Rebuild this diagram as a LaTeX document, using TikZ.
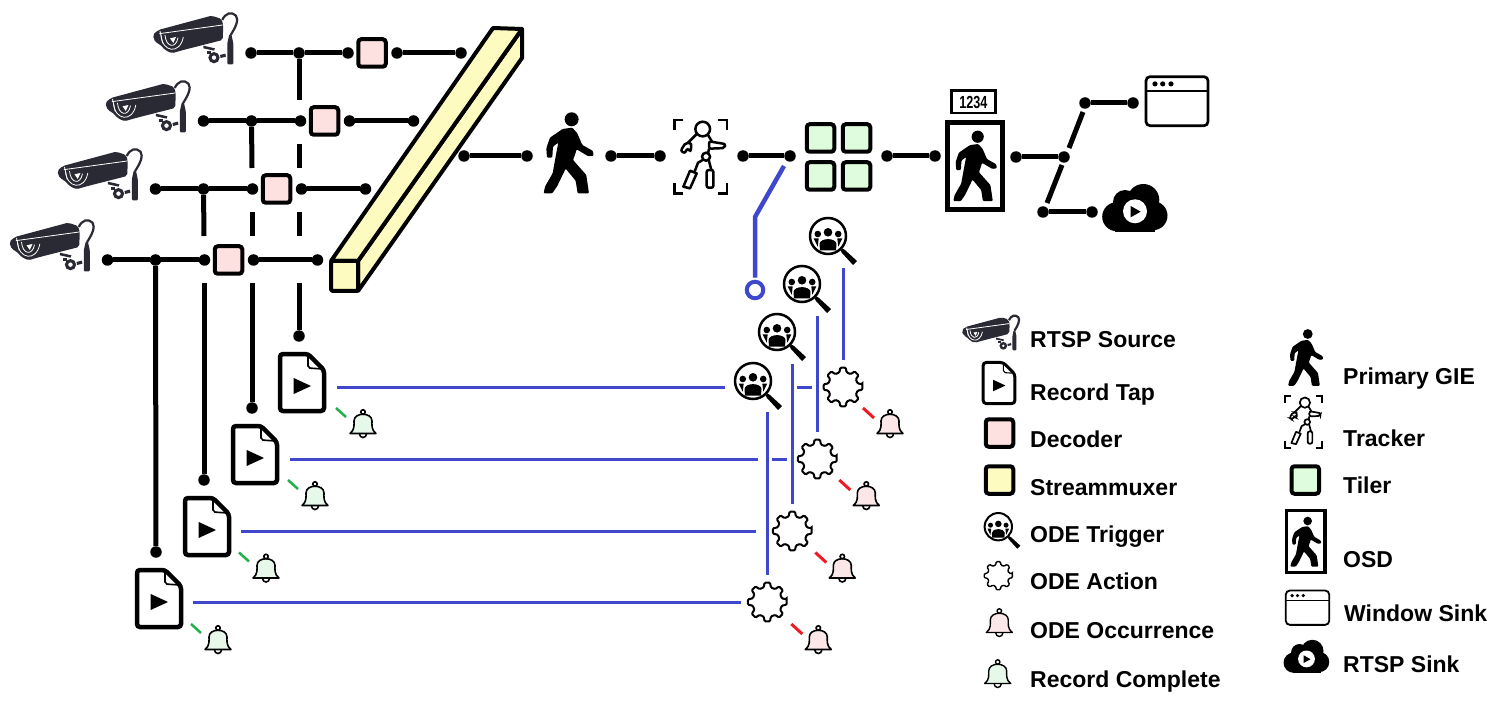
\documentclass[tikz,border=0pt]{standalone}
\usepackage{fontspec}
\setmainfont{Liberation Sans}
\definecolor{ductblue}{HTML}{3F48CC}
\definecolor{camdark}{HTML}{2A2A35}
\definecolor{decpink}{HTML}{FDE0E0}
\definecolor{muxyellow}{HTML}{FDFBBF}
\definecolor{tilegreen}{HTML}{DFFCDC}
\definecolor{bellpink}{HTML}{FBE7E7}
\definecolor{bellgreen}{HTML}{E6F8EA}
\definecolor{linkgreen}{HTML}{22B14C}
\definecolor{linkred}{HTML}{ED1C24}
\tikzset{
	dot/.style={circle,fill=black,inner sep=0,minimum size=11.5pt},
	wire/.style={line width=5pt},
	bluewire/.style={draw=ductblue,line width=3pt},
	ring/.style={circle,draw=ductblue,line width=4pt,inner sep=0,minimum size=16.5pt},
	squarebox/.style={draw=black,line width=4pt,rounded corners=3pt,inner sep=0,minimum size=27.5pt},
	decoder/.style={squarebox,fill=decpink},
	muxbox/.style={squarebox,fill=muxyellow},
	tile/.style={squarebox,fill=tilegreen},
	legendtext/.style={anchor=base west,inner sep=0,font=\fontsize{23}{26}\selectfont\bfseries},
	pics/camera/.style={code={
		\begin{scope}[scale=0.3333]
			\fill [camdark,rounded corners=2pt] (38,90) -- (55,75) -- (215,32) -- (245,42) -- (250,62) -- (248,105) -- (130,135) -- (95,145) -- (75,135) -- (60,118) -- (46,112) -- cycle;
			\draw [white,line width=0.8pt] (58,86) -- (248,60);
			\draw [white,line width=0.8pt] (60,78) -- (68,115);
			\draw [white,line width=0.8pt] (75,90) .. controls (78,128) and (108,132) .. (114,98);
			\draw [white,line width=0.8pt] (63,90) .. controls (66,142) and (120,150) .. (130,96);
			\fill [white] (90,100) -- (108,96) -- (100,114) -- cycle;
			\draw [camdark,line width=2.2pt] (247,45) .. controls (255,25) and (275,18) .. (288,32) .. controls (298,45) and (285,70) .. (272,90);
			\fill [camdark,rounded corners=1pt] (268,88) -- (274,88) -- (280,115) -- (280,178) -- (262,178) -- (262,115) -- cycle;
			\fill [camdark] (190,122) -- (225,130) -- (222,137) -- (190,130) -- cycle;
			\fill [camdark] (200,137) rectangle (212,146);
			\fill [camdark,even odd rule] (222,158) circle (17) circle (7);
			\fill [camdark] (240,150) -- (256,146) -- (258,155) -- (242,159) -- cycle;
		\end{scope}
	}},
	pics/recfile/.style={code={
		\draw [rounded corners=3pt,fill=white] (-22,-28.5) -- (6,-28.5) -- (22,-12.5) -- (22,28.5) -- (-22,28.5) -- cycle;
		\draw [rounded corners=2pt,line width=0.6*\pgflinewidth] (6,-28) -- (6,-14.5) -- (21,-13.5);
		\fill (-8.3,-4.5) -- (-8.3,11.5) -- (9,3.5) -- cycle;
	}},
	pics/bell/.style={code={
		\filldraw [line join=round] (-13,9.5) .. controls (-8,6) and (-9,0) .. (-9,-3) .. controls (-9,-12) and (9,-12) .. (9,-3) .. controls (9,0) and (8,6) .. (13,9.5) -- cycle;
		\draw (0,-12) circle (2.2);
		\draw (-3.5,10) arc (180:0:3.5 and 3.5);
	}},
	pics/trigger/.style={code={
		\draw (0,0) circle (18);
		\fill (0,-3.7) circle (4.3);
		\fill (-10.2,-2) circle (3.3);
		\fill (10.2,-2) circle (3.3);
		\fill (-8,14.5) -- (-8.5,8) .. controls (-8,1.5) and (8,1.5) .. (8.5,8) -- (8,14.5) -- cycle;
		\fill (-14.3,2.5) -- (-9.3,2.5) -- (-10.3,10.7) -- cycle;
		\fill (14.3,2.5) -- (9.3,2.5) -- (10.3,10.7) -- cycle;
		\fill (12.5,14.5) -- (14.5,12.5) -- (17,14) -- (29,25) -- (25,29) -- (14,17) -- cycle;
	}},
	pics/gear/.style={code={
		\draw [rounded corners=1pt] (-8:19.5) \foreach \a in {0,45,...,315} { -- (\a-8:19.5) -- (\a+8:19.5) -- (\a+14:15) -- (\a+31:15) } -- cycle;
	}},
	pics/walker/.style={code={
		\begin{scope}[scale=0.3333]
			\fill (10,-102) circle (21);
			\fill [rounded corners=1pt] (-17,-73) -- (12,-77) -- (27,-60) -- (42,-25) -- (74,-7) -- (76,7) -- (60,9) -- (25,-12) -- (20,5) -- (14,20) -- (54,65) -- (62,120) -- (28,120) -- (22,82) -- (-8,46) -- (-33,98) -- (-48,120) -- (-74,120) -- (-70,100) -- (-47,60) -- (-37,5) -- (-30,-32) -- (-46,-20) -- (-48,13) -- (-64,13) -- (-66,-15) -- (-55,-47) -- cycle;
		\end{scope}
	}},
	pics/tracker/.style={code={
		\begin{scope}[scale=0.3333]
			% Corners %
			\draw (-52,-110) -- (-79,-110) -- (-79,-80);
			\draw (52,-110) -- (79,-110) -- (79,-80);
			\draw (-52,110) -- (-79,110) -- (-79,80);
			\draw (52,110) -- (79,110) -- (79,80);
			% Body %
			\draw (6,-83) circle (22);
			\draw (-12,-68) -- (-38,-42);
			\draw [rounded corners=2pt] (-60,-18) -- (-45,-42) -- (-28,-40) -- (-30,-15) -- (-40,-25) -- (-48,-10) -- cycle;
			\draw (22,-65) -- (34,-45);
			\draw [rounded corners=2pt] (25,-46) -- (74,-38) -- (72,-26) -- (25,-24) -- cycle;
			\draw (25,-24) -- (22,-10);
			\draw (16,0) circle (12);
			\draw [line join=round] (-32,42) -- (-12,50) -- (-32,95) -- (-52,90) -- cycle;
			\draw (-18,44) -- (-8,18) -- (6,10);
			\draw [rounded corners=2pt] (18,40) -- (38,40) -- (38,93) -- (18,93) -- cycle;
			\draw (24,10) -- (32,40);
		\end{scope}
	}},
	pics/winsink/.style={code={
		\draw [rounded corners=4pt] (-31,-24.5) rectangle (31,24.5);
		\draw (-31,-10.3) -- (31,-10.3);
		\foreach \x in {-22,-14.3,-6}
			{\fill (\x,-17.3) circle (2.6);}
	}},
	pics/cloud/.style={code={
		\fill (-18.3,6.7) circle (14.5);
		\fill (8.3,-10) circle (16);
		\fill (-10,-8) circle (12);
		\fill (18,5.7) circle (14.5);
		\fill (-20,5) rectangle (20,21.7);
		\fill [white] (0,1.3) circle (12);
		\fill (-4.3,-4) -- (-4.3,7.3) -- (5.7,1.7) -- cycle;
	}},
}

\begin{document}
\begin{tikzpicture}[x=1pt,y=-1pt]
	\useasboundingbox (0,0) rectangle (1502,711);
	% Sources and Decoders %
	\foreach \n/\dx/\y in {1/0/53, 2/-47.5/121, 3/-95.5/189, 4/-143.5/260}
		{\pic at (140+\dx,\y-48) {camera};
		\node [dot] (src\n) at (251+\dx,\y) {};
		\node [dot] (tee\n) at (299+\dx,\y) {};
		\node [dot] (decin\n) at (348+\dx,\y) {};
		\node [decoder] (dec\n) at (372+\dx,\y) {};
		\node [dot] (decout\n) at (397+\dx,\y) {};
		\node [dot] (muxin\n) at (461+\dx,\y) {};
		\draw [wire] (src\n) -- (tee\n) -- (decin\n);
		\draw [wire] (decout\n) -- (muxin\n);}
	% Taps %
	\foreach \x/\ya/\yb in {299/144/168, 299/212/236, 252/212/236}
		{\coordinate (gapa) at (\x,\ya);
		\coordinate (gapb) at (\x,\yb);
		\draw [wire] (gapa) -- (gapb);}
	\foreach \n/\x/\yt/\yb in {1/299/100/336, 2/252/168/408, 3/204/236/480, 4/156/260/552}
		{\node [dot] (tapdot\n) at (\x,\yb) {};
		\coordinate (tapend\n) at (\x,\yt);
		\draw [wire] (tee\n) -- (tapend\n);
		\pic [line width=4.5pt] at (\x+3,\yb+46.5) {recfile};}
	\coordinate (lowtop1) at (299,283);
	\coordinate (lowtop2) at (252,283);
	\coordinate (lowtop3) at (204,283);
	\draw [wire] (lowtop1) -- (tapdot1);
	\draw [wire] (lowtop2) -- (tapdot2);
	\draw [wire] (lowtop3) -- (tapdot3);
	\draw [wire] (tee4) -- (tapdot4);
	% Streammuxer %
	\begin{scope}[line width=4pt,line join=round]
		\filldraw [fill=muxyellow] (358,261) -- (522,29) -- (522,58) -- (358,291) -- cycle;
		\filldraw [fill=muxyellow] (331,261) -- (493,28) -- (522,29) -- (358,261) -- cycle;
		\filldraw [fill=muxyellow,rounded corners=2pt] (331,261) rectangle (358,291);
	\end{scope}
	% Main Pipeline %
	\node [dot] (muxout) at (464,156) {};
	\node [dot] (gieIn) at (527,156) {};
	\pic at (568.3,153.3) {walker};
	\node [dot] (gieOut) at (611,156) {};
	\node [dot] (trkIn) at (660,156) {};
	\pic [line width=2.5pt] at (700.7,156.7) {tracker};
	\node [dot] (trkOut) at (743,156) {};
	\node [dot] (tilerIn) at (790,156) {};
	\node [tile] (tile1) at (820.5,138) {};
	\node [tile] (tile2) at (856.5,138) {};
	\node [tile] (tile3) at (820.5,176) {};
	\node [tile] (tile4) at (856.5,176) {};
	\node [dot] (tilerOut) at (887,156) {};
	\node [dot] (osdIn) at (935,156) {};
	\node [draw=black,line width=4.7pt,inner sep=0,minimum width=55.5pt,minimum height=86.5pt] (osd) at (975,166) {};
	\pic [scale=0.87] at (974.8,166.3) {walker};
	\node [draw=black,line width=2.7pt,inner sep=0,minimum width=44pt,minimum height=22.5pt] (osdbox) at (973.3,101.7) {};
	\node [xscale=0.72,font=\fontsize{17.5}{18}\selectfont\bfseries,inner sep=0] (osdtext) at (973.3,102) {1234};
	\node [dot] (osdOut) at (1016,157) {};
	\node [dot] (split) at (1064,157) {};
	\node [dot] (winIn) at (1085,103) {};
	\node [dot] (winEnd) at (1133,103) {};
	\node [dot] (rtspIn) at (1043,212) {};
	\node [dot] (rtspEnd) at (1092,212) {};
	\pic [line width=2.7pt] at (1177,101.2) {winsink};
	\pic at (1135,210) {cloud};
	\coordinate (upA) at (1083,112);
	\coordinate (upB) at (1069,148);
	\coordinate (downA) at (1062,165);
	\coordinate (downB) at (1047,203);
	\draw [wire] (muxout) -- (gieIn);
	\draw [wire] (gieOut) -- (trkIn);
	\draw [wire] (trkOut) -- (tilerIn);
	\draw [wire] (tilerOut) -- (osdIn);
	\draw [wire] (osdOut) -- (split);
	\draw [wire] (winIn) -- (winEnd);
	\draw [wire] (rtspIn) -- (rtspEnd);
	\draw [wire] (upA) -- (upB);
	\draw [wire] (downA) -- (downB);
	% ODE Branch %
	\coordinate (brTop) at (784,166);
	\coordinate (brBend) at (755,217);
	\node [ring] (brEnd) at (755,290) {};
	\draw [draw=ductblue,line width=4.5pt,line join=round,shorten >=2pt] (brTop) -- (brBend) -- (brEnd);
	\foreach \n/\xt/\yt/\xg/\y/\xa/\xb/\yup in {1/828/236/843/387/337/725/268, 2/802/284/817.3/459/290/758/316, 3/777/332/792.3/531/241/756/364, 4/753/381/767.3/602/193/741/412}
		{\pic [line width=2.5pt] at (\xt,\yt) {trigger};
		\coordinate (hlineA\n) at (\xa,\y);
		\coordinate (hlineB\n) at (\xb,\y);
		\draw [bluewire] (hlineA\n) -- (hlineB\n);
		\coordinate (vlineA\n) at (\xg,\yup);
		\coordinate (vlineB\n) at (\xg,\y-27);
		\draw [bluewire] (vlineA\n) -- (vlineB\n);
		\pic [line width=2pt] at (\xg,\y) {gear};}
	% Short Pieces %
	\coordinate (stubA) at (797,387);
	\coordinate (stubB) at (812,387);
	\coordinate (stubC) at (772,459);
	\coordinate (stubD) at (787,459);
	\draw [bluewire] (stubA) -- (stubB);
	\draw [bluewire] (stubC) -- (stubD);
	% Bells %
	\foreach \n/\xg/\xr/\y in {1/363/890/424, 2/315/866.3/496, 3/266/842.3/568.5, 4/218/818.3/640}
		{\coordinate (greenA\n) at (\xg-27,\y-16);
		\coordinate (greenB\n) at (\xg-17,\y-7);
		\draw [linkgreen,line width=2.5pt] (greenA\n) -- (greenB\n);
		\pic [fill=bellgreen,line width=1.6pt] at (\xg,\y) {bell};
		\coordinate (redA\n) at (\xr-27,\y-16);
		\coordinate (redB\n) at (\xr-16,\y-6);
		\draw [linkred,line width=3pt] (redA\n) -- (redB\n);
		\pic [fill=bellpink,line width=1.6pt] at (\xr,\y) {bell};}
	% Legend Icons %
	\pic [scale=0.68] at (953,310) {camera};
	\pic [scale=0.72,line width=3pt] at (999,383) {recfile};
	\node [decoder] (legdec) at (999.5,433) {};
	\node [muxbox] (legmux) at (999.5,480) {};
	\pic [scale=0.76,line width=2pt] at (998.3,526.7) {trigger};
	\pic [scale=0.73,line width=1.4pt] at (998.3,575.7) {gear};
	\pic [fill=bellpink,line width=1.4pt] at (999.3,623) {bell};
	\pic [fill=bellgreen,line width=1.4pt] at (997.7,674) {bell};
	\pic [scale=0.7] at (1305.4,357.8) {walker};
	\pic [scale=0.7,line width=1.7pt] at (1303.5,422) {tracker};
	\node [tile] (legtile) at (1305.3,480) {};
	\node [draw=black,line width=3.3pt,inner sep=0,minimum width=38.5pt,minimum height=61.7pt] (legosd) at (1305.8,541.5) {};
	\pic [scale=0.617] at (1305.6,542) {walker};
	\pic [scale=0.7,line width=1.8pt] at (1307.5,607.7) {winsink};
	\pic [scale=0.7] at (1306.5,658) {cloud};
	% Legend Text %
	\foreach \n/\x/\y/\txt in {a/1030/347.7/RTSP Source, b/1030/400/Record Tap, c/1030/447.7/Decoder, d/1030/495/Streammuxer, e/1030/542.7/ODE Trigger, f/1030/589.7/ODE Action, g/1030/638.3/ODE Occurrence, h/1030/687.7/Record Complete, i/1343/384.3/Primary GIE, j/1343/446/Tracker, k/1343/493.3/Tiler, l/1343/567/OSD, m/1344/621/Window Sink, n/1343/672.7/RTSP Sink}
		{\node [legendtext] (leg\n) at (\x,\y) {\txt};}
\end{tikzpicture}
\end{document}
